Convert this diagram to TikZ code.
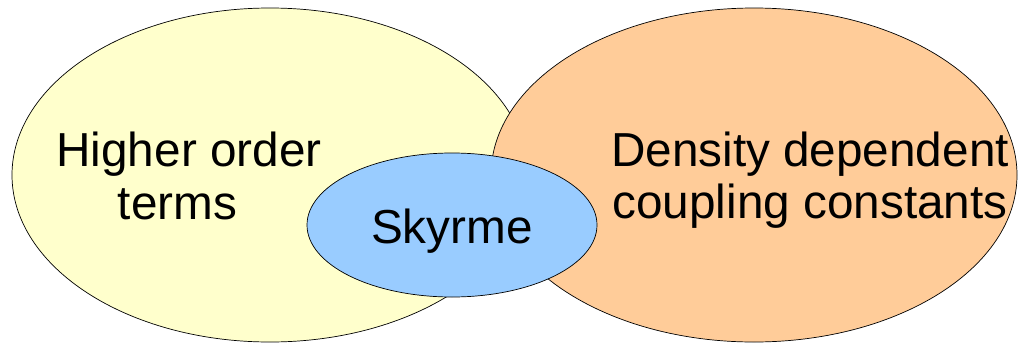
\documentclass[tikz,border=0pt]{standalone}
\usepackage{fontspec}
\setmainfont{Liberation Sans}
\usetikzlibrary{shapes.geometric,positioning}
\definecolor{setyellow}{HTML}{FFFFCC}
\definecolor{setorange}{HTML}{FFCC99}
\definecolor{setblue}{HTML}{99CCFF}

\begin{document}
\begin{tikzpicture}[x=1pt, y=-1pt, line width=0.7pt,
  blob/.style={draw, ellipse, inner sep=0pt},
  lbl/.style={align=center, inner sep=0pt, font=\fontsize{47.7}{52.5}\selectfont}]
\useasboundingbox (0,0) rectangle (1019,343);
\node[blob, fill=setyellow, minimum width=516pt, minimum height=334pt] (hot) at (270,175) {};
\node[blob, fill=setorange, minimum width=526pt, minimum height=334pt] (ddc) at (754,175) {};
\node[blob, fill=setblue, minimum width=290pt, minimum height=144pt] (sky) at (452,225) {};
\node[lbl] (hottext) at (189,176) {Higher order\\terms\hspace*{23pt}};
\node[lbl] (ddctext) at (810,180) {Density dependent\\coupling constants};
\node[lbl, anchor=base] (skytext) at (452,243) {Skyrme};
\end{tikzpicture}
\end{document}
